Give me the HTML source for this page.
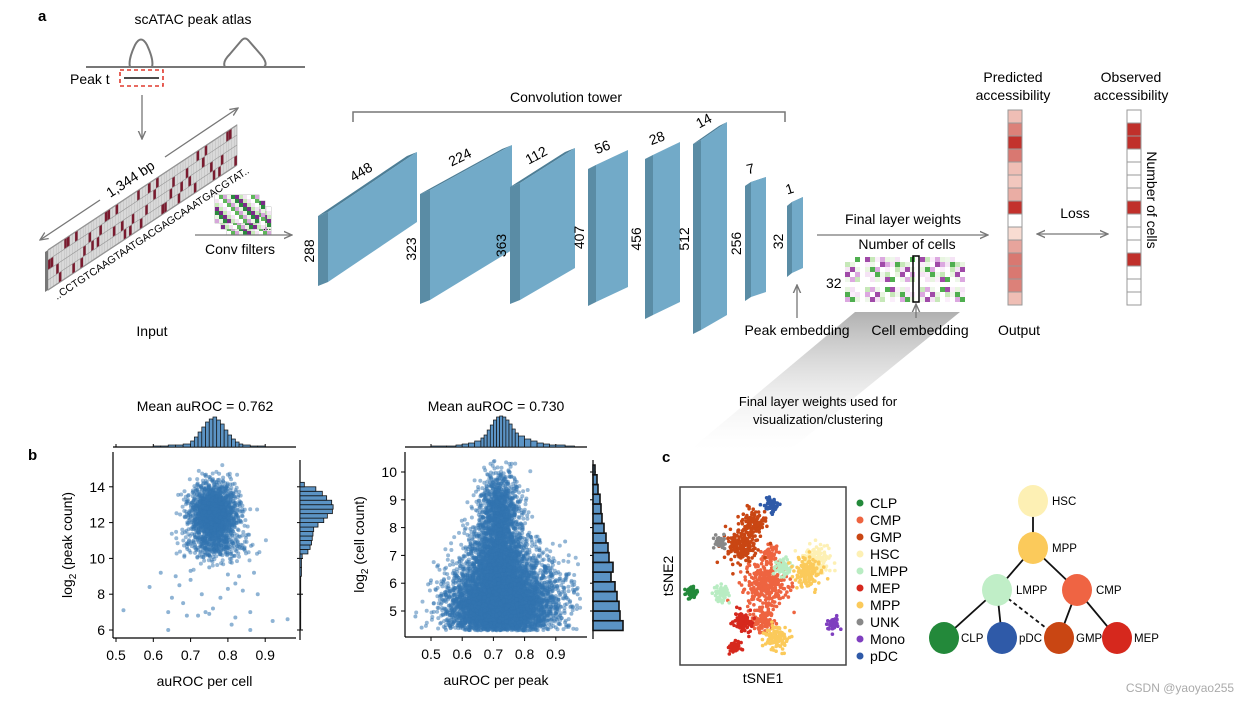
<!DOCTYPE html>
<html><head><meta charset="utf-8"><style>
html,body{margin:0;padding:0;background:#fff}
svg{display:block;font-family:"Liberation Sans",Arial,sans-serif}
</style></head><body>
<svg id="fig" width="1237" height="703" viewBox="0 0 1237 703" xmlns="http://www.w3.org/2000/svg">
<defs>
<linearGradient id="shade" x1="0" y1="0" x2="0" y2="1"><stop offset="0" stop-color="#b0b0b0"/><stop offset="1" stop-color="#ffffff" stop-opacity="0.2"/></linearGradient>
<marker id="ah" viewBox="0 0 10 10" refX="9" refY="5" markerWidth="7" markerHeight="7" orient="auto-start-reverse"><path d="M0,1 L9,5 L0,9" fill="none" stroke="#777" stroke-width="1.5"/></marker>
</defs>
<polygon points="855,312 960,312 790,450 690,450" fill="url(#shade)"/>
<rect x="735" y="318" width="250" height="22" fill="#fff" fill-opacity="0.0"/>
<g id="panelA">
<text x="38" y="21" font-weight="bold" font-size="15">a</text>
<text x="193" y="24" font-size="14" text-anchor="middle">scATAC peak atlas</text>
<line x1="86" y1="67" x2="305" y2="67" stroke="#777" stroke-width="2"/>
<path d="M130,67 Q128,60 135,45 Q141,34 147,45 Q154,60 152,67" fill="none" stroke="#777" stroke-width="2"/>
<path d="M225,67 Q222,62 230,54 L241,41 Q245,36 249,41 L262,56 Q268,64 264,67" fill="none" stroke="#777" stroke-width="2"/>
<text x="70" y="84" font-size="14">Peak t</text>
<rect x="120" y="70" width="43" height="16" fill="none" stroke="#e03a2f" stroke-width="1.6" stroke-dasharray="4,3"/>
<line x1="124" y1="78" x2="159" y2="78" stroke="#111" stroke-width="1.5"/>
<line x1="142" y1="95" x2="142" y2="139" stroke="#777" stroke-width="1.3" marker-end="url(#ah)"/>
<g id="strip"></g>
<line x1="40" y1="240" x2="100" y2="200" stroke="#777" stroke-width="1.3" marker-start="url(#ah)"/>
<line x1="165" y1="157" x2="238" y2="108" stroke="#777" stroke-width="1.3" marker-end="url(#ah)"/>
<text transform="translate(133,183) rotate(-33.5)" font-size="14" text-anchor="middle">1,344 bp</text>
<text transform="translate(57,300) rotate(-33.5)" font-size="10.5">..CCTGTCAAGTAATGACGAGCAAATGACGTAT..</text>
<g id="filters"></g>
<text x="263" y="230" font-size="10">...</text>
<line x1="195" y1="235" x2="292" y2="235" stroke="#777" stroke-width="1.3" marker-end="url(#ah)"/>
<text x="240" y="254" font-size="14" text-anchor="middle">Conv filters</text>
<text x="152" y="336" font-size="14" text-anchor="middle">Input</text>
<polyline points="353,122 353,112 785,112 785,122" fill="none" stroke="#777" stroke-width="1.5"/>
<text x="566" y="102" font-size="14" text-anchor="middle">Convolution tower</text>
<g id="blocks"></g>
<text x="903" y="224" font-size="14" text-anchor="middle">Final layer weights</text>
<line x1="817" y1="235" x2="988" y2="235" stroke="#777" stroke-width="1.3" marker-end="url(#ah)"/>
<text x="907" y="249" font-size="14" text-anchor="middle">Number of cells</text>
<text x="826" y="288" font-size="14">32</text>
<g id="cellheat"></g>
<rect x="913" y="256" width="6" height="46" fill="none" stroke="#000" stroke-width="1.5"/>
<line x1="797" y1="318" x2="797" y2="285" stroke="#777" stroke-width="1.3" marker-end="url(#ah)"/>
<line x1="916" y1="318" x2="916" y2="304" stroke="#777" stroke-width="1.3" marker-end="url(#ah)"/>
<text x="797" y="335" font-size="14" text-anchor="middle">Peak embedding</text>
<text x="920" y="335" font-size="14" text-anchor="middle">Cell embedding</text>
<text x="1013" y="82" font-size="14" text-anchor="middle">Predicted</text>
<text x="1013" y="100" font-size="14" text-anchor="middle">accessibility</text>
<text x="1131" y="82" font-size="14" text-anchor="middle">Observed</text>
<text x="1131" y="100" font-size="14" text-anchor="middle">accessibility</text>
<g id="predcol"></g>
<g id="obscol"></g>
<text transform="translate(1147,200) rotate(90)" font-size="14" text-anchor="middle">Number of cells</text>
<text x="1075" y="218" font-size="14" text-anchor="middle">Loss</text>
<line x1="1037" y1="234" x2="1108" y2="234" stroke="#777" stroke-width="1.3" marker-start="url(#ah)" marker-end="url(#ah)"/>
<text x="1019" y="335" font-size="14" text-anchor="middle">Output</text>
<text x="818" y="406" font-size="13" text-anchor="middle">Final layer weights used for</text>
<text x="818" y="424" font-size="13" text-anchor="middle">visualization/clustering</text>
</g>
<g id="panelB">
<text x="28" y="460" font-weight="bold" font-size="15">b</text>
<text x="205" y="411" font-size="14" text-anchor="middle">Mean auROC = 0.762</text>
<text x="496" y="411" font-size="14" text-anchor="middle">Mean auROC = 0.730</text>
<g id="scatter1"></g>
<g id="scatter2"></g>
</g>
<g id="panelC">
<text x="662" y="462" font-weight="bold" font-size="15">c</text>
<rect x="680" y="487" width="166" height="178" fill="none" stroke="#444" stroke-width="1.5"/>
<g id="tsne"></g>
<text x="763" y="683" font-size="14" text-anchor="middle">tSNE1</text>
<text transform="translate(673,576) rotate(-90)" font-size="14" text-anchor="middle">tSNE2</text>
<g id="legend"></g>
<g id="tree"></g>
</g>
<text x="1180" y="692" font-size="12" fill="#aaa" text-anchor="middle">CSDN @yaoyao255</text>
</svg>
<script>
const NS="http://www.w3.org/2000/svg";
function mk(parent,tag,attrs){const e=document.createElementNS(NS,tag);for(const k in attrs)e.setAttribute(k,attrs[k]);parent.appendChild(e);return e;}

// ---------- DATA ----------
const cellHistBins=[0.60,0.62,0.64,0.66,0.68,0.70,0.71,0.72,0.73,0.74,0.75,0.76,0.77,0.78,0.79,0.80,0.81,0.82,0.83,0.84,0.86,0.88,0.90];
const cellHistCounts=[1,1,2,2,3,6,10,15,20,25,28,30,27,23,17,12,8,5,3,2,1,1,0];
const peakCountBins=[6,7,8,9,9.5,10,10.25,10.5,10.75,11,11.25,11.5,11.75,12,12.25,12.5,12.75,13,13.25,13.5,13.75,14,14.25];
const peakCountLens=[1,1,1,2,2,3,11,14,16,17,18,19,25,33,38,45,46,44,37,31,22,6,2];
const cellCloud=[ {mx:0.762,my:12.5,sx:0.032,sy:0.85,n:1700}, {mx:0.77,my:10.7,sx:0.045,sy:0.45,n:250} ];
const cellOutX=[0.52,0.59,0.62,0.64,0.65,0.66,0.67,0.68,0.69,0.70,0.72,0.73,0.74,0.75,0.76,0.78,0.80,0.81,0.82,0.83,0.84,0.86,0.87,0.88,0.92,0.96,0.64,0.70,0.75,0.80,0.86,0.82];
const cellOutY=[7.1,8.4,9.2,6.0,7.8,9.0,8.5,7.5,6.8,9.3,6.8,8.0,7.0,9.5,7.2,7.8,8.3,6.3,6.7,9.0,8.2,6.0,9.2,8.0,6.5,6.6,7.0,8.8,6.9,9.1,7.0,8.6];
const peakHistBins=[0.45,0.50,0.55,0.58,0.60,0.62,0.64,0.66,0.67,0.68,0.69,0.70,0.71,0.72,0.73,0.74,0.75,0.76,0.77,0.78,0.80,0.82,0.84,0.86,0.88,0.90,0.93,0.96];
const peakHistCounts=[0,1,1,2,3,4,6,9,12,17,22,27,30,31,30,27,23,18,14,11,8,6,4,3,2,2,1,0];
const cellCountBins=[4.3,4.65,5.0,5.35,5.7,6.05,6.4,6.75,7.1,7.45,7.8,8.15,8.5,8.85,9.2,9.55,9.9,10.25];
const cellCountLens=[30,27,26,24,22,18,20,16,15,13,11,9,8,7,5,4,2,1];
const peakCloud=[ {mx:0.72,my:5.0,sx:0.075,sy:0.6,n:3500}, {mx:0.715,my:6.6,sx:0.05,sy:0.8,n:2200}, {mx:0.72,my:8.6,sx:0.032,sy:0.7,n:1000}, {mx:0.82,my:5.6,sx:0.07,sy:0.8,n:900}, {mx:0.62,my:5.4,sx:0.05,sy:0.7,n:500} ];
const tsneTypes=["CLP","CMP","GMP","HSC","LMPP","MEP","MPP","UNK","Mono","pDC"];
const tsneColors=["#23893a","#ee6440","#c94613","#fdf0b4","#b8ecc2","#d6281d","#fbca5b","#888888","#7f3fbf","#2f5aa8"];
const tsneCx=[[7,12],[52,50,54],[37,44],[82],[25,62],[38,33],[77,58],[24],[92],[55]];
const tsneCy=[[41],[45,25,62],[67,80],[59],[40,55],[24,10],[52,15],[69],[23],[90]];
const tsneSpread=[[3],[11,6,4],[8,6],[7],[4,4],[5,3],[7,6],[3],[3],[3.5]];
const treeNames=["HSC","MPP","LMPP","CMP","CLP","pDC","GMP","MEP"];
const treeX=[1033,1033,997,1077,944,1002,1059,1117];
const treeY=[501,548,590,590,638,638,638,638];
const treeColors=["#fdf0b4","#fbca5b","#c0eec7","#ef6443","#23893a","#2f5aa8","#c94613","#d6281d"];
const treeEdges=[[0,1],[1,2],[1,3],[2,4],[2,5],[3,6],[3,7]];
const predicted=[0.2,0.55,1,0.6,0.2,0.15,0.3,1,0,0.03,0.35,0.6,0.6,0.55,0.2];
const observed=[0,1,1,0,0,0,0,1,0,0,0,1,0,0,0];

function halton(i,b){let f=1,r=0;while(i>0){f/=b;r+=f*(i%b);i=Math.floor(i/b);}return r;}
function gauss(u,v){u=Math.max(u,1e-4);return Math.sqrt(-2*Math.log(u))*Math.cos(2*Math.PI*v);}

(function(){
 const g=document.getElementById('strip');
 const s=mk(g,'g',{transform:'matrix(2.7,-1.786,0,10,48,250)'});
 mk(s,'rect',{x:0,y:0,width:70,height:4,fill:'#d9d9d9',stroke:'#888','stroke-width':0.15});
 const seq="CCTGTCAAGTAATGACGAGCAAATGACGTATGCATTGACCAGTTAGCATGACGTTAGCACGTATGCAAGT";
 const row={A:0,C:1,G:2,T:3};
 for(let i=0;i<70;i++){
  if(i%3===2)continue;
  const r=mk(s,'rect',{x:i,y:row[seq[i]],width:1,height:1,fill:'#7a1a2e'});
  
  
 }
 for(let i=0;i<=70;i+=1)mk(s,'line',{x1:i,y1:0,x2:i,y2:4,stroke:'#999','stroke-width':0.08});
 for(let j=0;j<=4;j++)mk(s,'line',{x1:0,y1:j,x2:70,y2:j,stroke:'#999','stroke-width':0.08});
 mk(g,'polygon',{points:'45,252 48,250 48,290 45,292',fill:'#777'});
 const f=document.getElementById('filters');
 const pal=['#fff','#eaf6e4','#c7eab9','#5fb65b','#2b8a3e','#f3e3f3','#d6a6da','#7c2a8a'];
 for(let k=2;k>=0;k--){
  const ox=215+k*6, oy=195+k*6;
  mk(f,'rect',{x:ox,y:oy,width:44,height:28,fill:'#fff',stroke:'#999','stroke-width':0.6});
  for(let a=0;a<11;a++)for(let b=0;b<7;b++){
   const c=pal[(a*3+b*5+k)%8];
   mk(f,'rect',{x:ox+a*4,y:oy+b*4,width:4,height:4,fill:c});
  }
 }
 const B=[[318,417,212,282,152,222,10,'448','288'],[420,512,190,300,145,250,10,'224','323'],[510,575,183,300,148,268,10,'112','363'],[588,628,165,302,150,287,8,'56','407'],[645,680,155,315,142,302,8,'28','456'],[693,727,140,330,122,315,8,'14','512'],[745,766,182,297,177,292,6,'7','256'],[787,803,202,273,197,268,5,'1','32']];
 const bg=document.getElementById('blocks');
 B.forEach((b,i)=>{
  const [xL,xR,tL,bL,tR,bR,d,top,side]=b;
  const grp=mk(bg,'g',{});
  
  
  mk(grp,'polygon',{points:`${xL},${tL+4} ${xL+d},${tL} ${xR},${tR} ${xR-d},${tR+4}`,fill:'#4d7e96'});
  mk(grp,'polygon',{points:`${xL},${tL+4} ${xL+d},${tL} ${xL+d},${bL} ${xL},${bL+4}`,fill:'#5a8ca5'});
  mk(grp,'polygon',{points:`${xL+d},${tL} ${xR},${tR} ${xR},${bR} ${xL+d},${bL}`,fill:'#72aac8'});
  const ang=-Math.atan2(tL-tR,xR-xL)*180/Math.PI;
  const t1=mk(grp,'text',{transform:`translate(${(xL+xR)/2-4},${(tL+tR)/2-6}) rotate(${ang})`,'font-size':14,'text-anchor':'middle'});
  t1.textContent=top;
  const t2=mk(grp,'text',{transform:`translate(${xL-4},${(tL+bL)/2+4}) rotate(-90)`,'font-size':14,'text-anchor':'middle'});
  t2.textContent=side;
 });
 const ch=document.getElementById('cellheat');
 const hp=['#fff','#e8f5e0','#c6e8b8','#4fae4f','#f5e3f5','#dca8e0','#a04aa8','#fff','#eef7ea','#fbeefb','#fff'];
 for(let a=0;a<24;a++)for(let b=0;b<9;b++){
  mk(ch,'rect',{x:845+a*5,y:257+b*5,width:5,height:5,fill:hp[(a*7+b*13+a*b*3)%11]});
 }
 const pc=document.getElementById('predcol');
 predicted.forEach((v,i)=>{
  const r=Math.round(250-(250-195)*v), gg=Math.round(225-(225-50)*v), bb=Math.round(215-(215-45)*v);
  const c=v===0?'#fff':`rgb(${r},${gg},${bb})`;
  const e=mk(pc,'rect',{x:1008,y:110+i*13,width:14,height:13,fill:c,stroke:'#999','stroke-width':1});
  
  
 });
 const oc=document.getElementById('obscol');
 observed.forEach((v,i)=>{
  const e=mk(oc,'rect',{x:1127,y:110+i*13,width:14,height:13,fill:v?'#c0302b':'#fff',stroke:'#999','stroke-width':1});
  
  
 });
})();

function scatterPanel(id,cfg){
 const g=document.getElementById(id);
 const X=v=>cfg.x0+(v-cfg.xv0)*cfg.xs, Y=v=>cfg.y0-(v-cfg.yv0)*cfg.ys;
 let idx=1;
 cfg.clouds.forEach(c=>{
  for(let k=0;k<c.n;k++,idx++){
   const px=c.mx+c.sx*gauss(halton(idx,2),halton(idx,3));
   const py=c.my+c.sy*gauss(halton(idx,5),halton(idx,7));
   if(px<cfg.xmin||px>cfg.xmax||py<cfg.ymin||py>cfg.ymax)continue;
   mk(g,'circle',{cx:X(px).toFixed(1),cy:Y(py).toFixed(1),r:2,fill:'#3274b0','fill-opacity':0.5});
  }
 });
 cfg.ox.forEach((v,i)=>{
  const p=mk(g,'circle',{cx:X(v),cy:Y(cfg.oy[i]),r:2,fill:'#3274b0','fill-opacity':0.55});
  
  
 });
 mk(g,'line',{x1:cfg.ax0,y1:cfg.ay1,x2:cfg.ax0,y2:cfg.ay0,stroke:'#000','stroke-width':1.2});
 mk(g,'line',{x1:cfg.ax0,y1:cfg.ay1,x2:cfg.ax1,y2:cfg.ay1,stroke:'#000','stroke-width':1.2});
 cfg.xt.forEach(t=>{mk(g,'line',{x1:X(t),y1:cfg.ay1,x2:X(t),y2:cfg.ay1+4,stroke:'#000'});
  const tx=mk(g,'text',{x:X(t),y:cfg.ay1+22,'font-size':14,'text-anchor':'middle'});tx.textContent=t.toFixed(1);
  mk(g,'line',{x1:X(t),y1:cfg.ty,x2:X(t),y2:cfg.ty-3,stroke:'#000'});});
 cfg.yt.forEach(t=>{mk(g,'line',{x1:cfg.ax0-4,y1:Y(t),x2:cfg.ax0,y2:Y(t),stroke:'#000'});
  const tx=mk(g,'text',{x:cfg.ax0-8,y:Y(t)+5,'font-size':14,'text-anchor':'end'});tx.textContent=t;
  mk(g,'line',{x1:cfg.rx-3,y1:Y(t),x2:cfg.rx+3,y2:Y(t),stroke:'#000'});});
 mk(g,'line',{x1:cfg.ax0,y1:cfg.ty,x2:cfg.ax1,y2:cfg.ty,stroke:'#000','stroke-width':1.2});
 cfg.hb.forEach((b,i)=>{if(i===cfg.hb.length-1)return;
  const x1=X(b),x2=X(cfg.hb[i+1]),h=cfg.hc[i];
  const r=mk(g,'rect',{x:x1,y:cfg.ty-h,width:Math.max(x2-x1,1),height:h,fill:'#5b93c4',stroke:'#111','stroke-width':0.7});
  
  
 });
 mk(g,'line',{x1:cfg.rx,y1:cfg.ry0,x2:cfg.rx,y2:cfg.ay1+2,stroke:'#000','stroke-width':1.2});
 cfg.rb.forEach((b,i)=>{if(i===cfg.rb.length-1)return;
  const y1=Y(cfg.rb[i+1]),y2=Y(b),l=cfg.rl[i]*cfg.rscale;
  const r=mk(g,'rect',{x:cfg.rx,y:y1,width:l,height:y2-y1,fill:'#5b93c4',stroke:'#111','stroke-width':cfg.rsw});
  
  
 });
 const xl=mk(g,'text',{x:(cfg.ax0+cfg.ax1)/2,y:cfg.ay1+48,'font-size':14,'text-anchor':'middle'});xl.textContent=cfg.xlab;
 
 const yl=mk(g,'text',{transform:`translate(${cfg.ylx},${(cfg.ay0+cfg.ay1)/2}) rotate(-90)`,'font-size':14,'text-anchor':'middle'});
 yl.innerHTML='log<tspan font-size="10" dy="4">2</tspan><tspan dy="-4"> ('+cfg.ylab+')</tspan>';
 
}
scatterPanel('scatter1',{x0:116,xv0:0.5,xs:373,y0:630,yv0:6,ys:17.9,ax0:113,ax1:296,ay0:452,ay1:638,rx:300,ry0:460,ty:447,
 xmin:0.5,xmax:0.98,ymin:5.8,ymax:15.6,clouds:cellCloud,ox:cellOutX,oy:cellOutY,xt:[0.5,0.6,0.7,0.8,0.9],yt:[6,8,10,12,14],
 hb:cellHistBins,hc:cellHistCounts,rb:peakCountBins,rl:peakCountLens,rscale:0.72,rsw:0.8,xlab:'auROC per cell',ylab:'peak count',ylx:72});
scatterPanel('scatter2',{x0:431,xv0:0.5,xs:312,y0:611,yv0:5,ys:27.8,ax0:405,ax1:587,ay0:452,ay1:637,rx:593,ry0:460,ty:447,
 xmin:0.44,xmax:0.98,ymin:4.3,ymax:10.4,clouds:peakCloud,ox:[0.45,0.47,0.5,0.52,0.95,0.97,0.93],oy:[4.8,4.4,6.1,6.6,4.9,5.6,7.5],xt:[0.5,0.6,0.7,0.8,0.9],yt:[5,6,7,8,9,10],
 hb:peakHistBins,hc:peakHistCounts,rb:cellCountBins,rl:cellCountLens,rscale:1,rsw:1.6,xlab:'auROC per peak',ylab:'cell count',ylx:364});

(function(){
 const g=document.getElementById('tsne');
 const X=v=>680+v*1.66, Y=v=>665-v*1.78;
 let idx=1;
 tsneTypes.forEach((t,ti)=>{
  tsneCx[ti].forEach((cx,ci)=>{
   const s=tsneSpread[ti][ci], n=Math.round(20+s*s*2.2);
   for(let k=0;k<n;k++,idx++){
    const px=cx+s*gauss(halton(idx,2),halton(idx,3))*0.6;
    const py=tsneCy[ti][ci]+s*gauss(halton(idx,5),halton(idx,7))*0.6;
    mk(g,'circle',{cx:X(px).toFixed(1),cy:Y(py).toFixed(1),r:1.8,fill:tsneColors[ti]});
   }
  });
 });
 const lg=document.getElementById('legend');
 tsneTypes.forEach((t,i)=>{
  const it=mk(lg,'g',{});
  
  
  mk(it,'circle',{cx:860,cy:503+i*17,r:3.5,fill:tsneColors[i]});
  const tx=mk(it,'text',{x:870,y:508+i*17,'font-size':14});tx.textContent=t;
 });
 const tg=document.getElementById('tree');
 treeEdges.forEach(e=>mk(tg,'line',{x1:treeX[e[0]],y1:treeY[e[0]],x2:treeX[e[1]],y2:treeY[e[1]],stroke:'#111','stroke-width':1.8}));
 mk(tg,'line',{x1:treeX[2],y1:treeY[2],x2:treeX[6],y2:treeY[6],stroke:'#111','stroke-width':1.8,'stroke-dasharray':'4,3'});
 treeNames.forEach((n,i)=>{
  const nd=mk(tg,'g',{});
  
  
  mk(nd,'ellipse',{cx:treeX[i],cy:treeY[i],rx:15,ry:16,fill:treeColors[i]});
  const tx=mk(nd,'text',{x:treeX[i]+(i>=4?17:19),y:treeY[i]+4,'font-size':11.5});tx.textContent=n;
 });
})();
</script>
</body></html>
